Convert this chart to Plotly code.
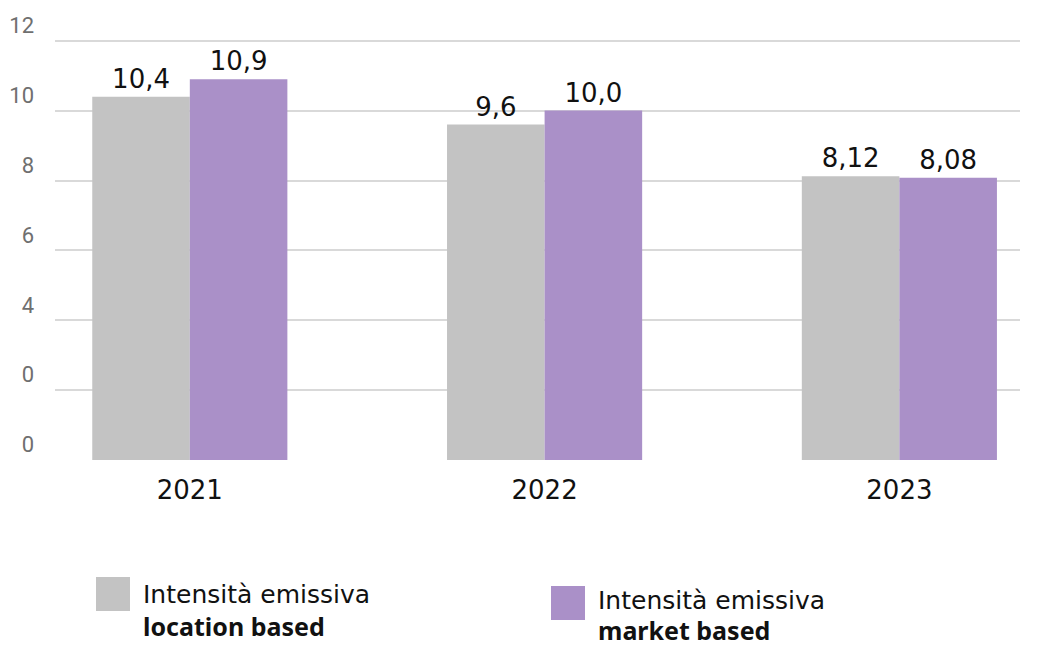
import plotly.graph_objects as go

years = ["2021", "2022", "2023"]
location_based = [10.4, 9.6, 8.12]
market_based = [10.9, 10.0, 8.08]
series_names = [("Intensità emissiva", "location based"),
                ("Intensità emissiva", "market based")]
y_tickvals = [0, 2, 4, 6, 8, 10, 12]
y_ticktext = ["0", "0", "4", "6", "8", "10", "12"]

gray = "#c3c3c3"
purple = "#aa90c8"
value_font = dict(family="DejaVu Sans, sans-serif", size=26, color="#111111")
legend_font = dict(family="DejaVu Sans, sans-serif", size=25, color="#111111")
legend_bold = dict(family="Noto Sans, DejaVu Sans, sans-serif", size=25,
                   color="#111111", weight="bold")

# page body adds an 8px margin, so the figure is sized/offset to compensate
W, H = 1033, 638
L, R, T, B = 47, 21, 31, 186
PW, PH = W - L - R, H - T - B


def fmt(v):
    return str(v).replace(".", ",")


fig = go.Figure()
for vals, color in [(location_based, gray), (market_based, purple)]:
    fig.add_trace(
        go.Bar(
            x=list(range(len(years))),
            y=vals,
            marker=dict(color=color, line=dict(width=0)),
            text=[fmt(v) for v in vals],
            textposition="outside",
            textfont=value_font,
            cliponaxis=False,
            showlegend=False,
        )
    )

fig.update_layout(
    width=W,
    height=H,
    barmode="group",
    bargap=0.45,
    bargroupgap=0,
    plot_bgcolor="white",
    paper_bgcolor="white",
    margin=dict(l=L, r=R, t=T, b=B, pad=0),
    xaxis=dict(
        range=[-0.38, 2.34],
        tickvals=list(range(len(years))),
        ticktext=years,
        tickfont=value_font,
        showgrid=False,
        zeroline=False,
        showline=False,
        ticks="",
        ticklabelstandoff=12,
        automargin=False,
    ),
    yaxis=dict(
        range=[0, 12.05],
        tickvals=y_tickvals,
        ticktext=y_ticktext,
        tickfont=dict(family="Liberation Sans Narrow, Roboto, sans-serif",
                      size=22, color="#6f6f6f"),
        ticklabelposition="outside top",
        ticklabelstandoff=20,
        gridcolor="#d9d9d9",
        gridwidth=2,
        zeroline=False,
        showline=False,
        ticks="",
        automargin=False,
    ),
)

# legend drawn as swatches + text (page pixel positions)
# (colour, labels, swatch x, swatch y, text offset, line gap)
legend_items = [
    (gray, series_names[0], 96, 577, 1, 29),
    (purple, series_names[1], 551, 586, -2, 27),
]
px0, py0 = 8 + L, 8 + T + PH  # page coords of plot's bottom-left


def to_px(x):
    return (x - px0) / PW


def to_py(y):
    return (py0 - y) / PH


for color, (line1, line2), x0, y0, dy, gap in legend_items:
    fig.add_shape(
        type="rect", xref="paper", yref="paper",
        x0=to_px(x0), x1=to_px(x0 + 34),
        y0=to_py(y0), y1=to_py(y0 + 34),
        fillcolor=color, line=dict(width=0),
    )
    fig.add_annotation(
        xref="paper", yref="paper",
        x=to_px(x0 + 45), y=to_py(y0 + dy),
        xanchor="left", yanchor="top", align="left",
        text=line1, showarrow=False,
        font=legend_font,
    )
    fig.add_annotation(
        xref="paper", yref="paper",
        x=to_px(x0 + 45), y=to_py(y0 + dy + gap),
        xanchor="left", yanchor="top", align="left",
        text=line2, showarrow=False,
        font=legend_bold,
    )

fig.write_html("out.html")
